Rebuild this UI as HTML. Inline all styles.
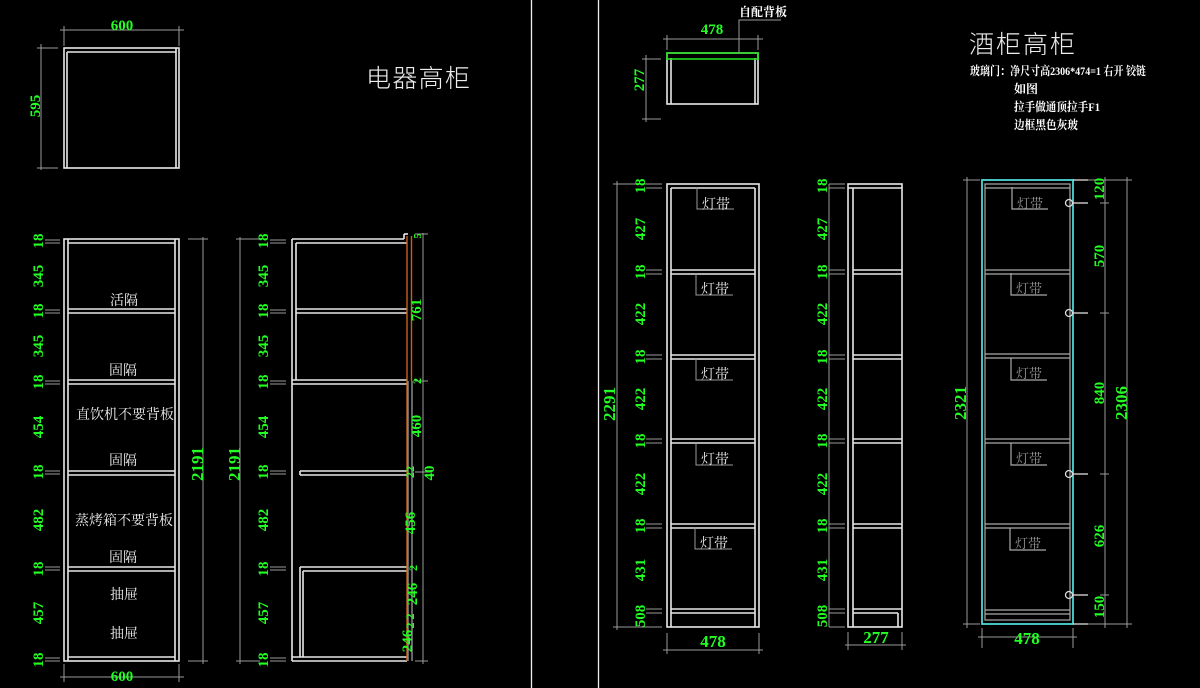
<!DOCTYPE html>
<html><head><meta charset="utf-8"><style>
html,body{margin:0;padding:0;background:#000;width:1200px;height:688px;overflow:hidden}
svg{display:block}
.w{stroke:#e8e8e8;stroke-width:1.6;fill:none}
.d{stroke:#9a9a9a;stroke-width:1;fill:none}
.gr{stroke:#aaa;stroke-width:1.2;fill:none}
.cy{stroke:#4fd6d6;stroke-width:1.8;fill:none}
.or{stroke:#c8601a;stroke-width:1.4;fill:none}
.gn{stroke:#22dd22;stroke-width:1.6;fill:none}
text{font-family:"Liberation Serif","Noto Serif CJK SC",serif}
.g{fill:#22ff22;font-size:15px;font-weight:bold}
.t{fill:#eee;font-family:"Liberation Sans","Noto Sans CJK SC",sans-serif;font-size:14px}
.tg{fill:#999;font-family:"Liberation Sans","Noto Sans CJK SC",sans-serif;font-size:13px}
.h{fill:#eee;font-family:"Liberation Sans","Noto Sans CJK SC",sans-serif;font-size:25px;font-weight:300}
.s{fill:#fff;font-family:"Liberation Serif","Noto Serif CJK SC",serif;font-size:12px;font-weight:bold}
</style></head><body>
<svg width="1200" height="688" viewBox="0 0 1200 688" xmlns="http://www.w3.org/2000/svg">
<line x1="531.5" y1="0" x2="531.5" y2="688" stroke="#eee" stroke-width="1.3"/>
<line x1="598.5" y1="0" x2="598.5" y2="688" stroke="#eee" stroke-width="1.3"/>

<rect class="w" x="64" y="48" width="115" height="120"/>
<line class="w" x1="67" y1="52" x2="176" y2="52"/><line class="w" x1="67" y1="52" x2="67" y2="168"/><line class="w" x1="176" y1="48" x2="176" y2="168"/>
<line class="d" x1="60" y1="30" x2="184" y2="30"/><line class="d" x1="64" y1="26" x2="64" y2="46"/><line class="d" x1="179" y1="26" x2="179" y2="46"/>
<text class="g" x="122" y="30" text-anchor="middle" font-size="14">600</text>
<line class="d" x1="41" y1="44" x2="41" y2="170"/><line class="d" x1="37" y1="48" x2="58" y2="48"/><line class="d" x1="37" y1="168" x2="58" y2="168"/>
<text class="g" transform="translate(40,106) rotate(-90)" text-anchor="middle" font-size="13">595</text>
<text class="h" x="366" y="87" textLength="104">电器高柜</text>

<rect class="w" x="64" y="239" width="115" height="422"/>
<line class="w" x1="68" y1="239" x2="68" y2="661"/><line class="w" x1="175" y1="239" x2="175" y2="661"/>
<line class="w" x1="68" y1="243" x2="175" y2="243"/><line class="w" x1="68" y1="657" x2="175" y2="657"/>
<g class="w">
<line x1="68" y1="309" x2="175" y2="309"/><line x1="68" y1="313" x2="175" y2="313"/>
<line x1="68" y1="380" x2="175" y2="380"/><line x1="68" y1="384" x2="175" y2="384"/>
<line x1="68" y1="471" x2="175" y2="471"/><line x1="68" y1="475" x2="175" y2="475"/>
<line x1="68" y1="567" x2="175" y2="567"/><line x1="68" y1="571" x2="175" y2="571"/>
</g>
<g class="d">
<line x1="45" y1="240" x2="60" y2="240"/><line x1="45" y1="243" x2="60" y2="243"/>
<line x1="45" y1="310" x2="60" y2="310"/><line x1="45" y1="313" x2="60" y2="313"/>
<line x1="45" y1="381" x2="60" y2="381"/><line x1="45" y1="384" x2="60" y2="384"/>
<line x1="45" y1="471" x2="60" y2="471"/><line x1="45" y1="474" x2="60" y2="474"/>
<line x1="45" y1="567" x2="60" y2="567"/><line x1="45" y1="570" x2="60" y2="570"/>
<line x1="45" y1="658" x2="60" y2="658"/><line x1="45" y1="661" x2="60" y2="661"/>
<line x1="203" y1="237" x2="203" y2="664"/><line x1="188" y1="239" x2="208" y2="239"/><line x1="188" y1="661" x2="208" y2="661"/>
<line x1="60" y1="677" x2="184" y2="677"/><line x1="64" y1="664" x2="64" y2="682"/><line x1="179" y1="664" x2="179" y2="682"/>
</g>
<g class="g" text-anchor="middle">
<text transform="translate(43,241) rotate(-90)">18</text>
<text transform="translate(43,276) rotate(-90)">345</text>
<text transform="translate(43,311) rotate(-90)">18</text>
<text transform="translate(43,346) rotate(-90)">345</text>
<text transform="translate(43,382) rotate(-90)">18</text>
<text transform="translate(43,427) rotate(-90)">454</text>
<text transform="translate(43,472) rotate(-90)">18</text>
<text transform="translate(43,520) rotate(-90)">482</text>
<text transform="translate(43,569) rotate(-90)">18</text>
<text transform="translate(43,613) rotate(-90)">457</text>
<text transform="translate(43,660) rotate(-90)">18</text>
<text transform="translate(203,464) rotate(-90)" font-size="17">2191</text>
<text x="122" y="681">600</text>
</g>
<g class="t" text-anchor="middle">
<text x="124" y="305">活隔</text>
<text x="123" y="375">固隔</text>
<text x="125" y="419">直饮机不要背板</text>
<text x="123" y="465">固隔</text>
<text x="124" y="525">蒸烤箱不要背板</text>
<text x="123" y="562">固隔</text>
<text x="124" y="599">抽屉</text>
<text x="124" y="638">抽屉</text>
</g>

<g class="w">
<line x1="292" y1="239" x2="292" y2="661"/><line x1="296" y1="243" x2="296" y2="380"/>
<line x1="292" y1="239" x2="404" y2="239"/><line x1="296" y1="243" x2="407" y2="243"/>
<line x1="404" y1="234" x2="404" y2="239"/><line x1="404" y1="234" x2="408" y2="234"/>
<line x1="296" y1="309" x2="407" y2="309"/><line x1="296" y1="313" x2="407" y2="313"/>
<line x1="292" y1="380" x2="407" y2="380"/><line x1="292" y1="384" x2="407" y2="384"/>
<line x1="300" y1="471" x2="407" y2="471"/><line x1="300" y1="475" x2="407" y2="475"/><line x1="300" y1="471" x2="300" y2="475"/>
<line x1="300" y1="567" x2="407" y2="567"/><line x1="303" y1="571" x2="407" y2="571"/>
<line x1="300" y1="567" x2="300" y2="657"/><line x1="303" y1="571" x2="303" y2="657"/>
<line x1="292" y1="657" x2="407" y2="657"/><line x1="292" y1="661" x2="407" y2="661"/>
</g>
<line class="gr" x1="408" y1="381" x2="408" y2="661"/><line class="gr" x1="412" y1="381" x2="412" y2="661"/>
<line class="or" x1="407" y1="236" x2="407" y2="661"/><line class="or" x1="411.5" y1="236" x2="411.5" y2="381"/>
<g class="d">
<line x1="270" y1="240" x2="286" y2="240"/><line x1="270" y1="243" x2="286" y2="243"/>
<line x1="270" y1="310" x2="286" y2="310"/><line x1="270" y1="313" x2="286" y2="313"/>
<line x1="270" y1="381" x2="286" y2="381"/><line x1="270" y1="384" x2="286" y2="384"/>
<line x1="270" y1="471" x2="286" y2="471"/><line x1="270" y1="474" x2="286" y2="474"/>
<line x1="270" y1="567" x2="286" y2="567"/><line x1="270" y1="570" x2="286" y2="570"/>
<line x1="270" y1="658" x2="286" y2="658"/><line x1="270" y1="661" x2="286" y2="661"/>
<line x1="240" y1="237" x2="240" y2="664"/><line x1="236" y1="239" x2="260" y2="239"/><line x1="236" y1="661" x2="260" y2="661"/>
<line x1="423" y1="233" x2="423" y2="664"/><line x1="415" y1="234" x2="428" y2="234"/><line x1="415" y1="661" x2="428" y2="661"/>
<line x1="415" y1="381" x2="428" y2="381"/><line x1="415" y1="472" x2="432" y2="472"/>
</g>
<g class="g" text-anchor="middle">
<text transform="translate(268,241) rotate(-90)">18</text>
<text transform="translate(268,276) rotate(-90)">345</text>
<text transform="translate(268,311) rotate(-90)">18</text>
<text transform="translate(268,346) rotate(-90)">345</text>
<text transform="translate(268,382) rotate(-90)">18</text>
<text transform="translate(268,427) rotate(-90)">454</text>
<text transform="translate(268,472) rotate(-90)">18</text>
<text transform="translate(268,520) rotate(-90)">482</text>
<text transform="translate(268,569) rotate(-90)">18</text>
<text transform="translate(268,613) rotate(-90)">457</text>
<text transform="translate(268,660) rotate(-90)">18</text>
<text transform="translate(240,464) rotate(-90)" font-size="17">2191</text>
<text transform="translate(421,236) rotate(-90)" font-size="10">5</text>
<text transform="translate(421,310) rotate(-90)">761</text>
<text transform="translate(421,381) rotate(-90)" font-size="12">2</text>
<text transform="translate(421,426) rotate(-90)">460</text>
<text transform="translate(414,472) rotate(-90)" font-size="12">22</text>
<text transform="translate(434,473) rotate(-90)">40</text>
<text transform="translate(415,523) rotate(-90)">456</text>
<text transform="translate(417,568) rotate(-90)" font-size="12">2</text>
<text transform="translate(417,594) rotate(-90)">246</text>
<text transform="translate(414,621) rotate(-90)" font-size="12">2 2</text>
<text transform="translate(412,641) rotate(-90)">246</text>
</g>

<rect class="w" x="667" y="53" width="91" height="51"/>
<line class="w" x1="671" y1="58" x2="671" y2="104"/><line class="w" x1="755" y1="58" x2="755" y2="104"/>
<rect class="gn" x="667" y="53" width="91" height="6"/>
<line class="d" x1="663" y1="39" x2="763" y2="39"/><line class="d" x1="667" y1="35" x2="667" y2="50"/><line class="d" x1="758" y1="35" x2="758" y2="50"/>
<text class="g" x="712" y="34" text-anchor="middle">478</text>
<line class="d" x1="646" y1="55" x2="646" y2="122"/><line class="d" x1="642" y1="59" x2="661" y2="59"/><line class="d" x1="642" y1="119" x2="661" y2="119"/>
<text class="g" transform="translate(644,80) rotate(-90)" text-anchor="middle">277</text>
<polyline class="d" points="739,53 739,20 781,20"/>
<text class="s" x="739" y="16">自配背板</text>

<text class="h" x="969" y="53" textLength="106">酒柜高柜</text>
<text class="s" x="970" y="75" textLength="176" lengthAdjust="spacingAndGlyphs">玻璃门：净尺寸高2306*474=1 右开 铰链</text>
<text class="s" x="1014" y="93">如图</text>
<text class="s" x="1014" y="111" textLength="86" lengthAdjust="spacingAndGlyphs">拉手做通顶拉手F1</text>
<text class="s" x="1014" y="129" textLength="64" lengthAdjust="spacingAndGlyphs">边框黑色灰玻</text>

<rect class="w" x="667" y="184" width="92" height="443"/>
<line class="w" x1="671" y1="188" x2="671" y2="627"/><line class="w" x1="755" y1="188" x2="755" y2="627"/>
<line class="w" x1="671" y1="188" x2="755" y2="188"/>
<g class="w">
<line x1="671" y1="270" x2="755" y2="270"/><line x1="671" y1="274" x2="755" y2="274"/>
<line x1="671" y1="355" x2="755" y2="355"/><line x1="671" y1="359" x2="755" y2="359"/>
<line x1="671" y1="439" x2="755" y2="439"/><line x1="671" y1="443" x2="755" y2="443"/>
<line x1="671" y1="524" x2="755" y2="524"/><line x1="671" y1="528" x2="755" y2="528"/>
<line x1="671" y1="609" x2="755" y2="609"/><line x1="671" y1="613" x2="755" y2="613"/>
</g>
<g class="d" stroke="#ccc">
<polyline points="697,187 697,209 734,209"/><polyline points="696,273 696,295 733,295"/><polyline points="696,358 696,380 733,380"/><polyline points="696,443 696,465 733,465"/><polyline points="695,527 695,549 732,549"/>
</g>
<g class="t" font-size="13">
<text x="702" y="209">灯带</text><text x="701" y="294">灯带</text><text x="701" y="379">灯带</text><text x="701" y="464">灯带</text><text x="700" y="548">灯带</text>
</g>
<g class="d">
<line x1="617" y1="181" x2="617" y2="630"/><line x1="613" y1="184" x2="662" y2="184"/><line x1="613" y1="627" x2="662" y2="627"/>
<line x1="646" y1="188" x2="662" y2="188"/>
<line x1="646" y1="270" x2="662" y2="270"/><line x1="646" y1="274" x2="662" y2="274"/>
<line x1="646" y1="355" x2="662" y2="355"/><line x1="646" y1="359" x2="662" y2="359"/>
<line x1="646" y1="439" x2="662" y2="439"/><line x1="646" y1="443" x2="662" y2="443"/>
<line x1="646" y1="524" x2="662" y2="524"/><line x1="646" y1="528" x2="662" y2="528"/>
<line x1="646" y1="609" x2="662" y2="609"/><line x1="646" y1="613" x2="662" y2="613"/>
<line x1="663" y1="650" x2="763" y2="650"/><line x1="667" y1="633" x2="667" y2="654"/><line x1="759" y1="633" x2="759" y2="654"/>
</g>
<g class="g" text-anchor="middle">
<text transform="translate(645,186) rotate(-90)">18</text>
<text transform="translate(645,229) rotate(-90)">427</text>
<text transform="translate(645,272) rotate(-90)">18</text>
<text transform="translate(645,314) rotate(-90)">422</text>
<text transform="translate(645,357) rotate(-90)">18</text>
<text transform="translate(645,399) rotate(-90)">422</text>
<text transform="translate(645,441) rotate(-90)">18</text>
<text transform="translate(645,484) rotate(-90)">422</text>
<text transform="translate(645,526) rotate(-90)">18</text>
<text transform="translate(645,570) rotate(-90)">431</text>
<text transform="translate(645,616) rotate(-90)">508</text>
<text transform="translate(615,404) rotate(-90)" font-size="17">2291</text>
<text x="713" y="647" font-size="17">478</text>
</g>

<rect class="w" x="848" y="184" width="54" height="443"/>
<line class="w" x1="853" y1="188" x2="853" y2="627"/><line class="w" x1="848" y1="188" x2="902" y2="188"/>
<g class="w">
<line x1="853" y1="270" x2="902" y2="270"/><line x1="853" y1="274" x2="902" y2="274"/>
<line x1="853" y1="355" x2="902" y2="355"/><line x1="853" y1="359" x2="902" y2="359"/>
<line x1="853" y1="439" x2="902" y2="439"/><line x1="853" y1="443" x2="902" y2="443"/>
<line x1="853" y1="524" x2="902" y2="524"/><line x1="853" y1="528" x2="902" y2="528"/>
<line x1="853" y1="609" x2="902" y2="609"/><line x1="853" y1="613" x2="898" y2="613"/>
</g>
<line class="w" x1="898" y1="613" x2="898" y2="627"/>
<g class="d">
<line x1="829" y1="184" x2="845" y2="184"/><line x1="829" y1="188" x2="845" y2="188"/>
<line x1="829" y1="270" x2="845" y2="270"/><line x1="829" y1="274" x2="845" y2="274"/>
<line x1="829" y1="355" x2="845" y2="355"/><line x1="829" y1="359" x2="845" y2="359"/>
<line x1="829" y1="439" x2="845" y2="439"/><line x1="829" y1="443" x2="845" y2="443"/>
<line x1="829" y1="524" x2="845" y2="524"/><line x1="829" y1="528" x2="845" y2="528"/>
<line x1="829" y1="609" x2="845" y2="609"/><line x1="829" y1="613" x2="845" y2="613"/>
<line x1="829" y1="627" x2="845" y2="627"/>
<line x1="829" y1="184" x2="829" y2="627"/>
<line x1="845" y1="645" x2="906" y2="645"/><line x1="848" y1="632" x2="848" y2="650"/><line x1="902" y1="632" x2="902" y2="650"/>
</g>
<g class="g" text-anchor="middle">
<text transform="translate(827,186) rotate(-90)">18</text>
<text transform="translate(827,229) rotate(-90)">427</text>
<text transform="translate(827,272) rotate(-90)">18</text>
<text transform="translate(827,314) rotate(-90)">422</text>
<text transform="translate(827,357) rotate(-90)">18</text>
<text transform="translate(827,399) rotate(-90)">422</text>
<text transform="translate(827,441) rotate(-90)">18</text>
<text transform="translate(827,484) rotate(-90)">422</text>
<text transform="translate(827,526) rotate(-90)">18</text>
<text transform="translate(827,570) rotate(-90)">431</text>
<text transform="translate(827,616) rotate(-90)">508</text>
<text x="876" y="643" font-size="17">277</text>
</g>

<rect class="gr" x="985" y="184" width="85" height="436" stroke="#888"/>
<g class="gr" stroke="#888">
<line x1="985" y1="188" x2="1070" y2="188"/>
<line x1="985" y1="270" x2="1070" y2="270"/><line x1="985" y1="274" x2="1070" y2="274"/>
<line x1="985" y1="354" x2="1070" y2="354"/><line x1="985" y1="358" x2="1070" y2="358"/>
<line x1="985" y1="439" x2="1070" y2="439"/><line x1="985" y1="443" x2="1070" y2="443"/>
<line x1="985" y1="524" x2="1070" y2="524"/><line x1="985" y1="528" x2="1070" y2="528"/>
<line x1="985" y1="610" x2="1070" y2="610"/><line x1="985" y1="614" x2="1070" y2="614"/>
<polyline points="1012,187 1012,209 1048,209"/><polyline points="1011,273 1011,295 1047,295"/><polyline points="1011,358 1011,380 1047,380"/><polyline points="1011,443 1011,465 1047,465"/><polyline points="1010,528 1010,550 1046,550"/>
</g>
<rect class="cy" x="982" y="180" width="91" height="444"/>
<g class="tg">
<text x="1017" y="208">灯带</text><text x="1016" y="293">灯带</text><text x="1016" y="378">灯带</text><text x="1016" y="463">灯带</text><text x="1015" y="548">灯带</text>
</g>
<g fill="none" stroke="#ddd" stroke-width="1.3">
<circle cx="1069" cy="203" r="3.5"/><circle cx="1069" cy="313" r="3.5"/><circle cx="1069" cy="474" r="3.5"/><circle cx="1069" cy="595" r="3.5"/>
<line x1="1073" y1="203" x2="1088" y2="203"/><line x1="1073" y1="313" x2="1088" y2="313"/><line x1="1073" y1="474" x2="1088" y2="474"/><line x1="1073" y1="595" x2="1088" y2="595"/>
<line x1="1073" y1="180" x2="1088" y2="180"/><line x1="1073" y1="624" x2="1088" y2="624"/>
</g>
<g class="d">
<line x1="967" y1="177" x2="967" y2="628"/><line x1="963" y1="180" x2="980" y2="180"/><line x1="963" y1="624" x2="980" y2="624"/>
<line x1="1105" y1="177" x2="1105" y2="628"/><line x1="1088" y1="180" x2="1132" y2="180"/><line x1="1088" y1="624" x2="1132" y2="624"/>
<line x1="1100" y1="203" x2="1109" y2="203"/><line x1="1100" y1="313" x2="1109" y2="313"/><line x1="1100" y1="474" x2="1109" y2="474"/><line x1="1100" y1="595" x2="1109" y2="595"/>
<line x1="1127" y1="177" x2="1127" y2="628"/>
<line x1="978" y1="637" x2="1077" y2="637"/><line x1="982" y1="628" x2="982" y2="648"/><line x1="1073" y1="628" x2="1073" y2="648"/>
</g>
<g class="g" text-anchor="middle">
<text transform="translate(966,403) rotate(-90)" font-size="17">2321</text>
<text transform="translate(1104,189) rotate(-90)">120</text>
<text transform="translate(1104,256) rotate(-90)">570</text>
<text transform="translate(1104,393) rotate(-90)">840</text>
<text transform="translate(1104,536) rotate(-90)">626</text>
<text transform="translate(1104,607) rotate(-90)">150</text>
<text transform="translate(1127,403) rotate(-90)" font-size="17">2306</text>
<text x="1027" y="644" font-size="17">478</text>
</g>
</svg>
</body></html>
